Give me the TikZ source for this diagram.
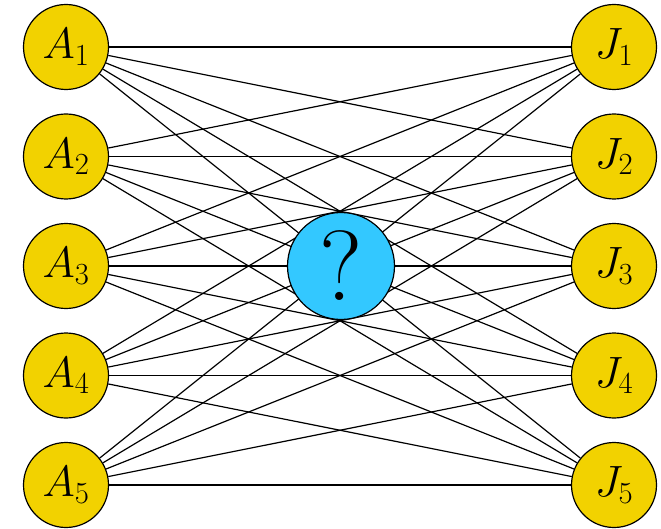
\RequirePackage{fix-cm}
\documentclass[tikz,border=0pt]{standalone}
\usepackage{xcolor}
\definecolor{nodeyellow}{RGB}{242,210,0}
\definecolor{nodecyan}{RGB}{51,200,255}
\tikzset{
  endpt/.style={circle, draw=black, line width=1.2pt, fill=nodeyellow, minimum size=85bp, inner sep=0pt, font=\fontsize{44}{48}\selectfont},
  hub/.style={circle, draw=black, line width=1.2pt, fill=nodecyan, minimum size=107bp, inner sep=0pt, font=\fontsize{100}{105}\selectfont},
  link/.style={draw=black, line width=1.2pt}
}
\begin{document}
\begin{tikzpicture}[x=1bp,y=-1bp]
\useasboundingbox (0,0) rectangle (661,529);
\foreach \i in {1,...,5} {
  \node[endpt] (A\i) at (66, {47+109.5*(\i-1)}) {$A_{\i}$};
  \node[endpt] (J\i) at (614, {47+109.5*(\i-1)}) {$J_{\i}$};
}
\foreach \i in {1,...,5} {
  \foreach \j in {1,...,5} {
    \draw[link] (A\i) -- (J\j);
  }
}
\node[hub] (Q) at (341,266) {?};
\end{tikzpicture}
\end{document}
